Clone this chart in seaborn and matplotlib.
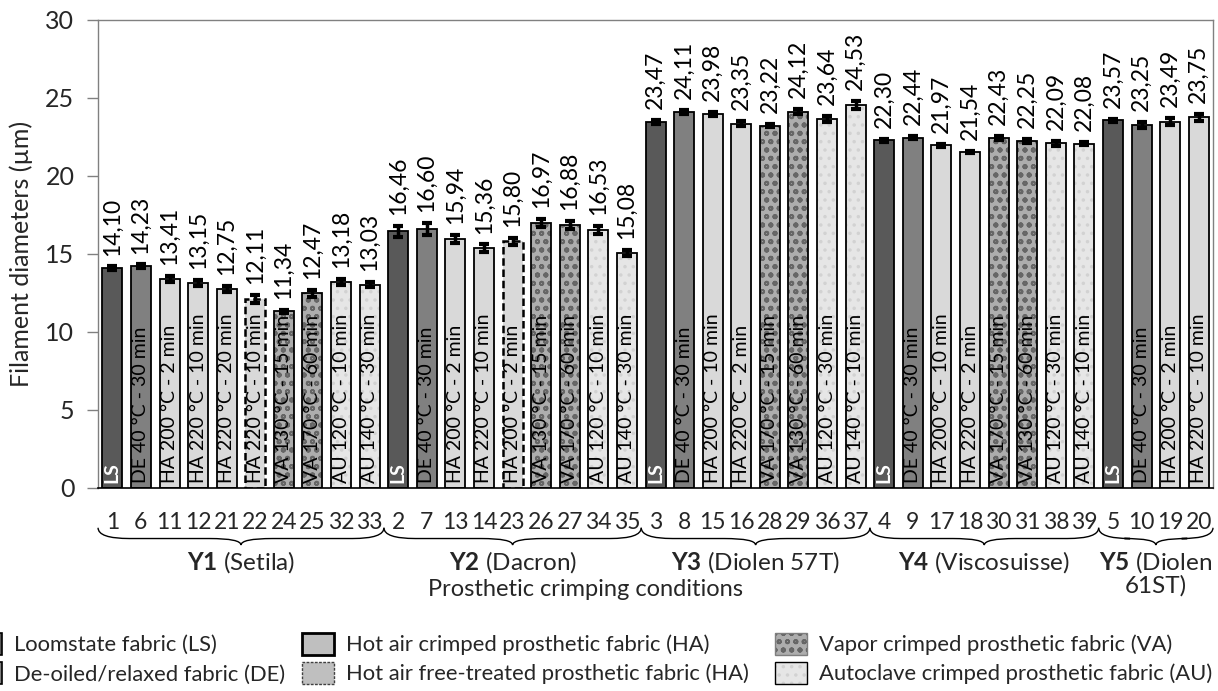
import numpy as np
import pandas as pd
import matplotlib.pyplot as plt
import matplotlib.transforms as mtransforms
from matplotlib.patches import Patch, PathPatch
from matplotlib.path import Path
import seaborn as sns

sns.set_theme(style="white")
plt.rcParams["font.family"] = ["Lato", "DejaVu Sans"]
plt.rcParams["mathtext.fontset"] = "custom"
plt.rcParams["mathtext.rm"] = "Lato"
plt.rcParams["mathtext.bf"] = "Lato:bold"
plt.rcParams["hatch.linewidth"] = 1.3

# data
samples = [1, 6, 11, 12, 21, 22, 24, 25, 32, 33,
           2, 7, 13, 14, 23, 26, 27, 34, 35,
           3, 8, 15, 16, 28, 29, 36, 37,
           4, 9, 17, 18, 30, 31, 38, 39,
           5, 10, 19, 20]
diameters = [14.10, 14.23, 13.41, 13.15, 12.75, 12.11, 11.34, 12.47, 13.18, 13.03,
             16.46, 16.60, 15.94, 15.36, 15.80, 16.97, 16.88, 16.53, 15.08,
             23.47, 24.11, 23.98, 23.35, 23.22, 24.12, 23.64, 24.53,
             22.30, 22.44, 21.97, 21.54, 22.43, 22.25, 22.09, 22.08,
             23.57, 23.25, 23.49, 23.75]
errors = [0.10, 0.10, 0.20, 0.20, 0.20, 0.25, 0.10, 0.20, 0.20, 0.15,
          0.35, 0.40, 0.25, 0.25, 0.20, 0.25, 0.25, 0.25, 0.20,
          0.15, 0.15, 0.15, 0.15, 0.10, 0.15, 0.20, 0.25,
          0.10, 0.10, 0.10, 0.05, 0.15, 0.15, 0.15, 0.10,
          0.10, 0.20, 0.20, 0.20]
kinds = ["LS", "DE", "HA", "HA", "HA", "HF", "VA", "VA", "AU", "AU",
         "LS", "DE", "HA", "HA", "HF", "VA", "VA", "AU", "AU",
         "LS", "DE", "HA", "HA", "VA", "VA", "AU", "AU",
         "LS", "DE", "HA", "HA", "VA", "VA", "AU", "AU",
         "LS", "DE", "HA", "HA"]
conditions = ["LS", "DE 40 °C - 30 min", "HA 200 °C - 2 min", "HA 220 °C - 10 min",
              "HA 220 °C - 20 min", "HA 220 °C - 10 min", "VA 130 °C - 15 min",
              "VA 170 °C - 60 min", "AU 120 °C - 10 min", "AU 140 °C - 30 min",
              "LS", "DE 40 °C - 30 min", "HA 200 °C - 2 min", "HA 220 °C - 10 min",
              "HA 200 °C - 2 min", "VA 130 °C - 15 min", "VA 170 °C - 60 min",
              "AU 120 °C - 10 min", "AU 140 °C - 30 min",
              "LS", "DE 40 °C - 30 min", "HA 200 °C - 10 min", "HA 220 °C - 2 min",
              "VA 170 °C - 15 min", "VA 130 °C - 60 min", "AU 120 °C - 30 min",
              "AU 140 °C - 10 min",
              "LS", "DE 40 °C - 30 min", "HA 200 °C - 10 min", "HA 220 °C - 2 min",
              "VA 170 °C - 15 min", "VA 130 °C - 60 min", "AU 120 °C - 30 min",
              "AU 140 °C - 10 min",
              "LS", "DE 40 °C - 30 min", "HA 200 °C - 2 min", "HA 220 °C - 10 min"]
group_ids = ["Y1", "Y2", "Y3", "Y4", "Y5"]
group_names = ["(Setila)", "(Dacron)", "(Diolen 57T)", "(Viscosuisse)", "(Diolen\n61ST)"]
group_sizes = [10, 9, 8, 8, 4]

legend_labels = ["Loomstate fabric (LS)", "De-oiled/relaxed fabric (DE)",
                 "Hot air crimped prosthetic fabric (HA)", "Hot air free-treated prosthetic fabric (HA)",
                 "Vapor crimped prosthetic fabric (VA)", "Autoclave crimped prosthetic fabric (AU)"]

face = {"LS": "#595959", "DE": "#808080", "HA": "#d9d9d9", "HF": "#d9d9d9",
        "VA": "#adadad", "AU": "#e6e6e6"}
hatch = {"VA": ("oo", "#666666"), "AU": ("..", "#d2d2d2")}

df = pd.DataFrame({"sample": [str(s) for s in samples],
                   "diameter": diameters, "kind": kinds})
order = list(df["sample"])

fig, ax = plt.subplots(figsize=(12.18, 6.91), dpi=100)
fig.subplots_adjust(left=0.0805, right=0.9959, bottom=0.2938, top=0.9711)

# filled bars
sns.barplot(data=df, x="sample", y="diameter", hue="kind", order=order,
            palette=face, dodge=False, width=0.7, errorbar=None,
            saturation=1, linewidth=0, legend=False, ax=ax)
n_fill = len(ax.patches)
for p in ax.patches:
    i = int(round(p.get_x() + p.get_width() / 2))
    k = kinds[i]
    if k in hatch:
        p.set_hatch(hatch[k][0])
        p.set_edgecolor(hatch[k][1])
        p.set_linewidth(0)

# outlines
sns.barplot(data=df, x="sample", y="diameter", order=order, fill=False,
            color="black", width=0.7, errorbar=None, linewidth=1.3, ax=ax)
for p in ax.patches[n_fill:]:
    i = int(round(p.get_x() + p.get_width() / 2))
    if kinds[i] == "HF":
        p.set_linestyle((0, (3, 1.5)))
        p.set_linewidth(1.8)

xs = np.arange(len(diameters))
ax.errorbar(xs, diameters, yerr=errors, fmt="none", ecolor="black",
            elinewidth=2.5, capsize=3.5, capthick=3, zorder=5)

for i, (v, e) in enumerate(zip(diameters, errors)):
    ax.text(i, v + e + 0.7, f"{v:.2f}".replace(".", ","), rotation=90,
            ha="center", va="bottom", fontsize=16.5, color="black")
    if conditions[i] == "LS":
        ax.text(i, 0.35, "LS", rotation=90, ha="center", va="bottom",
                fontsize=14, color="white", fontweight="bold")
    else:
        ax.text(i, 0.35, conditions[i], rotation=90, ha="center", va="bottom",
                fontsize=14, color="black")

ax.set_ylim(0, 30)
ax.set_yticks(range(0, 31, 5))
ax.set_xlim(-0.5, len(diameters) - 0.5)
ax.set_xlabel("")
ax.set_ylabel("Filament diameters (µm)", fontsize=18, labelpad=9)
ax.tick_params(axis="y", left=True, direction="out", length=8, width=1,
               color="#808080", labelsize=18, pad=9)
ax.tick_params(axis="x", bottom=False, labelsize=16.5, pad=11)
for side in ["left", "top", "right"]:
    ax.spines[side].set_color("#808080")
    ax.spines[side].set_linewidth(1)
ax.spines["bottom"].set_color("black")
ax.spines["bottom"].set_linewidth(1.2)

# group braces and names
trans = mtransforms.blended_transform_factory(ax.transData, ax.transAxes)
y_top, y_mid, y_tip = -0.085, -0.108, -0.122
start = 0
for gid, gname, size in zip(group_ids, group_names, group_sizes):
    x0 = start - 0.5
    x1 = start + size - 0.5
    xc = (x0 + x1) / 2
    r = 1.1
    verts = [(x0, y_top), (x0, y_mid), (x0 + r, y_mid),
             (xc - r, y_mid), (xc, y_mid), (xc, y_tip),
             (xc, y_mid), (xc + r, y_mid),
             (x1 - r, y_mid), (x1, y_mid), (x1, y_top)]
    codes = [Path.MOVETO, Path.CURVE3, Path.CURVE3,
             Path.LINETO, Path.CURVE3, Path.CURVE3,
             Path.CURVE3, Path.CURVE3,
             Path.LINETO, Path.CURVE3, Path.CURVE3]
    ax.add_patch(PathPatch(Path(verts, codes), transform=trans, fill=False,
                           edgecolor="black", linewidth=1, clip_on=False))
    ax.text(xc, -0.130, "$\\mathbf{" + gid + "}$ " + gname, transform=trans,
            ha="center", va="top", fontsize=17.5, multialignment="center",
            linespacing=1.0)
    start += size

fig.text(585 / 1218, 1 - 590 / 691, "Prosthetic crimping conditions",
         ha="center", va="center", fontsize=17)

# legend in three columns
handles = [
    Patch(facecolor=face["LS"], edgecolor="black", linewidth=1.2),
    Patch(facecolor=face["DE"], edgecolor="black", linewidth=1.2),
    Patch(facecolor="#bfbfbf", edgecolor="black", linewidth=2),
    Patch(facecolor="#bfbfbf", edgecolor="#404040", linewidth=1, linestyle=(0, (2, 1))),
    (Patch(facecolor=face["VA"], hatch=hatch["VA"][0], edgecolor=hatch["VA"][1], linewidth=0),
     Patch(fill=False, edgecolor="#7f7f7f", linewidth=1)),
    (Patch(facecolor=face["AU"], hatch=hatch["AU"][0], edgecolor=hatch["AU"][1], linewidth=0),
     Patch(fill=False, edgecolor="black", linewidth=1)),
]
col_x = [-30 / 1218, 302 / 1218, 775 / 1218]
for c in range(3):
    fig.legend(handles[2 * c:2 * c + 2], legend_labels[2 * c:2 * c + 2],
               loc="center left", bbox_to_anchor=(col_x[c], 1 - 658.5 / 691),
               frameon=False, fontsize=15.8, handlelength=1.45, handleheight=1.2,
               handletextpad=0.55, labelspacing=0.3, borderpad=0, borderaxespad=0)

fig.savefig("out.png", dpi=100)
